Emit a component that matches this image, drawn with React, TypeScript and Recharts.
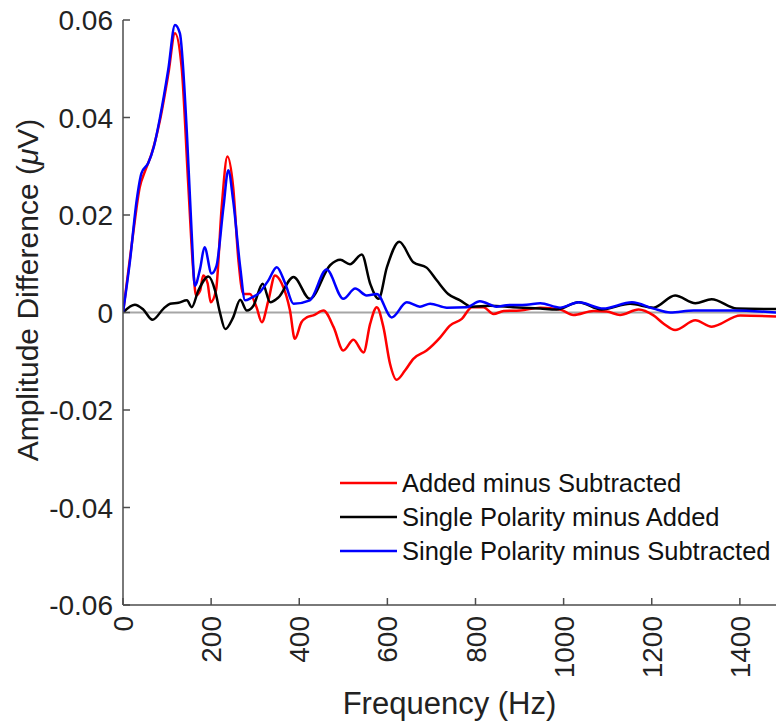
import { LineChart, Line, XAxis, YAxis, ReferenceLine, Legend, Label } from 'recharts';

// Added minus Subtracted (red)
const redFreq = [0, 23, 38, 50, 65, 84, 103, 118, 133, 148, 160, 166, 175, 182, 192, 199, 211, 224, 237, 250, 262, 273, 288, 303, 315, 330, 345, 360, 379, 390, 405, 417, 432, 455, 478, 500, 523, 546, 561, 576, 591, 606, 621, 640, 659, 689, 720, 742, 769, 792, 818, 841, 864, 901, 947, 992, 1022, 1068, 1098, 1128, 1170, 1204, 1227, 1253, 1299, 1336, 1401, 1482];
const redAmp = [0, 0.0162, 0.0257, 0.029, 0.0326, 0.0395, 0.049, 0.0573, 0.0504, 0.0264, 0.008, 0.0035, 0.0045, 0.0076, 0.006, 0.0021, 0.0045, 0.0216, 0.032, 0.0257, 0.0107, 0.0038, 0.0038, 0.0011, -0.002, 0.0025, 0.0076, 0.006, 0.0004, -0.0054, -0.002, -0.001, -0.0006, 0.0004, -0.003, -0.0078, -0.0056, -0.0082, -0.0023, 0.0011, -0.003, -0.0105, -0.0138, -0.0119, -0.0095, -0.0078, -0.0051, -0.0027, -0.0013, 0.0011, 0.0011, -0.0003, 0.0003, 0.0004, 0.001, 0.0006, -0.0005, 0.0003, 0.0002, -0.0005, 0.0006, -0.0006, -0.0023, -0.0036, -0.0016, -0.0029, -0.0006, -0.0008];

// Single Polarity minus Added (black)
const blackFreq = [0, 27, 45, 67, 92, 107, 126, 145, 156, 171, 194, 209, 220, 232, 250, 266, 281, 296, 317, 334, 353, 387, 424, 470, 493, 515, 542, 561, 580, 599, 627, 659, 689, 712, 738, 765, 792, 833, 885, 947, 984, 1034, 1086, 1151, 1204, 1253, 1299, 1336, 1393, 1482];
const blackAmp = [0, 0.0016, 0.0007, -0.0015, 0.0008, 0.0018, 0.002, 0.0025, 0.0011, 0.0045, 0.0074, 0.0045, 0, -0.0034, -0.001, 0.0026, 0.0004, 0.0014, 0.0059, 0.0021, 0.0031, 0.0073, 0.0028, 0.0097, 0.0108, 0.0099, 0.0119, 0.0059, 0.0028, 0.0093, 0.0145, 0.0103, 0.0092, 0.0066, 0.0038, 0.0025, 0.0012, 0.0014, 0.0011, 0.0008, 0.0006, 0.0021, 0.0006, 0.0018, 0.001, 0.0035, 0.0019, 0.0027, 0.0008, 0.0007];

// Single Polarity minus Subtracted (blue)
const blueFreq = [0, 16, 31, 42, 57, 70, 84, 103, 118, 129, 145, 156, 163, 175, 185, 201, 212, 228, 239, 250, 266, 277, 291, 311, 330, 349, 368, 387, 424, 462, 500, 527, 553, 576, 610, 644, 674, 697, 735, 780, 810, 848, 870, 916, 947, 992, 1034, 1090, 1155, 1204, 1242, 1295, 1385, 1482];
const blueAmp = [0, 0.0107, 0.023, 0.0286, 0.0306, 0.034, 0.04, 0.05, 0.059, 0.0573, 0.0368, 0.016, 0.0055, 0.009, 0.0134, 0.008, 0.0095, 0.0216, 0.0292, 0.023, 0.0093, 0.0025, 0.003, 0.0042, 0.0066, 0.0093, 0.006, 0.0018, 0.0025, 0.0088, 0.0028, 0.0049, 0.0035, 0.0038, -0.001, 0.0021, 0.0012, 0.0018, 0.001, 0.0011, 0.0023, 0.0012, 0.0015, 0.0016, 0.0019, 0.001, 0.0021, 0.0008, 0.0021, 0.0008, 0, 0.0004, 0.0004, 0];

const xTicks = [0, 200, 400, 600, 800, 1000, 1200, 1400];
const yTicks = [-0.06, -0.04, -0.02, 0, 0.02, 0.04, 0.06];
const yTickLabels = ['-0.06', '-0.04', '-0.02', '0', '0.02', '0.04', '0.06'];

const seriesNames = ['Added minus Subtracted', 'Single Polarity minus Added', 'Single Polarity minus Subtracted'];
const seriesColors = ['#ff0000', '#000000', '#0000ff'];

const toPoints = (freq: number[], amp: number[]) => freq.map((f, i) => ({ f, v: amp[i] }));
const series = [
  toPoints(redFreq, redAmp),
  toPoints(blackFreq, blackAmp),
  toPoints(blueFreq, blueAmp),
];

const FONT = '"Liberation Sans", Arial, sans-serif';
const TEXT = '#222';
const AXIS = '#4d4d4d';

const YTick = ({ x, y, payload }: any) => {
  const idx = yTicks.indexOf(payload.value);
  return (
    <g>
      <line x1={x + 10} x2={x + 17} y1={y} y2={y} stroke={AXIS} strokeWidth={1.5} />
      <text x={x} y={y} dy="0.36em" textAnchor="end" fontSize={28} fontFamily={FONT} fill={TEXT}>
        {idx >= 0 ? yTickLabels[idx] : payload.value}
      </text>
    </g>
  );
};

const XTick = ({ x, y, payload }: any) => (
  <g>
    <line x1={x} x2={x} y1={y - 10} y2={y - 17} stroke={AXIS} strokeWidth={1.5} />
    <text
      transform={`translate(${x},${y + 1}) rotate(-90)`}
      dy="0.36em"
      textAnchor="end"
      fontSize={28}
      fontFamily={FONT}
      fill={TEXT}
    >
      {payload.value}
    </text>
  </g>
);

const YAxisTitle = () => (
  <text
    transform="translate(38,290) rotate(-90)"
    textAnchor="middle"
    fontSize={30}
    fontFamily={FONT}
    fill={TEXT}
  >
    Amplitude Difference (<tspan fontStyle="italic">μ</tspan>V)
  </text>
);

const LegendBox = () => (
  <div style={{ fontFamily: FONT, fontSize: 25.5, color: '#111' }}>
    {seriesNames.map((name, i) => (
      <div key={name} style={{ display: 'flex', alignItems: 'center', height: 34, whiteSpace: 'nowrap' }}>
        <svg width={64} height={10} style={{ flex: 'none' }}>
          <line x1={2} x2={59} y1={5} y2={5} stroke={seriesColors[i]} strokeWidth={2.5} />
        </svg>
        <span>{name}</span>
      </div>
    ))}
  </div>
);

export default function App() {
  return (
    <div style={{ position: 'absolute', left: 0, top: 0, background: '#fff' }}>
      <LineChart width={776} height={721} margin={{ top: 20, right: 0, bottom: 0, left: 0 }}>
        <XAxis
          type="number"
          dataKey="f"
          domain={[0, 1482]}
          ticks={xTicks}
          allowDataOverflow
          height={116}
          stroke={AXIS}
          strokeWidth={1.5}
          tickLine={false}
          tickSize={0}
          tickMargin={10}
          tick={<XTick />}
        >
          <Label value="Frequency (Hz)" position="insideBottom" offset={7} fontSize={31} fontFamily={FONT} fill={TEXT} />
        </XAxis>
        <YAxis
          type="number"
          domain={[-0.06, 0.06]}
          ticks={yTicks}
          width={123}
          stroke={AXIS}
          strokeWidth={1.5}
          tickLine={false}
          tickSize={0}
          tickMargin={10}
          tick={<YTick />}
        >
          <Label content={<YAxisTitle />} />
        </YAxis>
        <ReferenceLine y={0} stroke="#a6a6a6" strokeWidth={2} />
        {series.map((pts, i) => (
          <Line
            key={seriesNames[i]}
            data={pts}
            dataKey="v"
            name={seriesNames[i]}
            type="monotone"
            stroke={seriesColors[i]}
            strokeWidth={2.5}
            dot={false}
            isAnimationActive={false}
          />
        ))}
        <Legend
          layout="vertical"
          align="center"
          verticalAlign="middle"
          content={<LegendBox />}
          wrapperStyle={{ left: 338, top: 466, width: 440 }}
        />
      </LineChart>
    </div>
  );
}
